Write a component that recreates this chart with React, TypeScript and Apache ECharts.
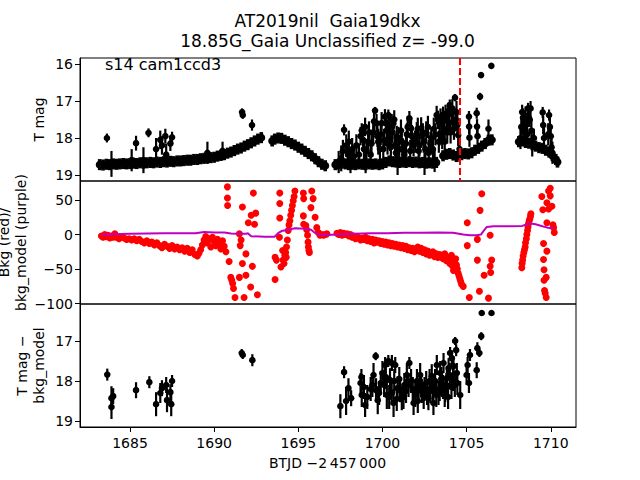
import React, { useEffect, useRef } from "react";
import * as echarts from "echarts";

// ---------- axis ranges & ticks ----------
const tRange = [1682.03, 1711.5];
const xTicks = [1685, 1690, 1695, 1700, 1705, 1710];
const topRange = [15.838, 19.162];
const topTicks = [16, 17, 18, 19];
const midRange = [-100.5, 77.5];
const midTicks = [-100, -50, 0, 50];
const botRange = [16.075, 19.15];
const botTicks = [17, 18, 19];
const discoveryT = 1704.62;

// ---------- top panel: dense band (T mag) ----------
const bandErr = 0.15;
const topBandT = [
  1683.2, 1683.4, 1683.6, 1683.8, 1684.0, 1684.2, 1684.4, 1684.6, 1684.8, 1685.0,
  1685.2, 1685.4, 1685.6, 1685.8, 1686.0, 1686.2, 1686.4, 1686.6, 1686.8, 1687.0,
  1687.2, 1687.4, 1687.6, 1687.8, 1688.0, 1688.2, 1688.4, 1688.6, 1688.8, 1689.0,
  1689.2, 1689.4, 1689.6, 1689.8, 1690.0, 1690.2, 1690.4, 1690.6, 1690.8, 1691.0,
  1691.2, 1691.4, 1691.6, 1691.8, 1692.0, 1692.2, 1692.4, 1692.6, 1692.8,
  1693.45, 1693.6, 1693.8, 1694.0, 1694.2, 1694.4, 1694.6, 1694.8, 1695.0, 1695.2,
  1695.4, 1695.6, 1695.8, 1696.0, 1696.2, 1696.4, 1696.6,
  1697.2, 1697.4, 1697.6, 1697.8, 1698.0, 1698.2, 1698.4, 1698.6, 1698.8, 1699.0,
  1699.2, 1699.4, 1699.6, 1699.8, 1700.0, 1700.2, 1700.4, 1700.6, 1700.8, 1701.0,
  1701.2, 1701.4, 1701.6, 1701.8, 1702.0, 1702.2, 1702.4, 1702.6, 1702.8, 1703.0,
  1703.2, 1703.6, 1703.8, 1704.0, 1704.2, 1704.4,
  1704.7, 1704.9, 1705.1, 1705.3, 1705.5, 1705.7, 1705.9, 1706.1, 1706.3, 1706.5,
  1708.1, 1708.3, 1708.5, 1708.7, 1708.9, 1709.1, 1709.3, 1709.5, 1709.7, 1709.9,
  1710.1, 1710.3, 1710.4,
];
const topBandMag = [
  18.72, 18.73, 18.71, 18.72, 18.70, 18.71, 18.70, 18.69, 18.70, 18.69,
  18.68, 18.69, 18.67, 18.68, 18.67, 18.66, 18.67, 18.65, 18.66, 18.64,
  18.65, 18.63, 18.64, 18.62, 18.62, 18.61, 18.60, 18.60, 18.58, 18.58,
  18.56, 18.55, 18.54, 18.53, 18.52, 18.49, 18.47, 18.45, 18.41, 18.38,
  18.34, 18.30, 18.27, 18.22, 18.18, 18.13, 18.08, 18.03, 17.99,
  18.08, 18.03, 18.00, 18.01, 18.06, 18.10, 18.15, 18.19, 18.25, 18.30,
  18.36, 18.42, 18.48, 18.56, 18.64, 18.71, 18.75,
  18.72, 18.70, 18.68, 18.70, 18.72, 18.71, 18.72, 18.70, 18.71, 18.72,
  18.70, 18.71, 18.70, 18.72, 18.70, 18.66, 18.62, 18.64, 18.65, 18.66,
  18.65, 18.66, 18.64, 18.66, 18.65, 18.67, 18.66, 18.68, 18.67, 18.68,
  18.66, 18.48, 18.44, 18.42, 18.46, 18.50,
  18.45, 18.42, 18.43, 18.40, 18.33, 18.28, 18.22, 18.15, 18.06, 18.05,
  18.10, 18.08, 18.12, 18.14, 18.18, 18.22, 18.26, 18.28, 18.33, 18.38,
  18.48, 18.58, 18.65,
];

// ---------- top panel: scattered points [t, mag, err] ----------
const topScatter = [
  [1683.63, 18.0, 0.12], [1683.9, 18.7, 0.35], [1685.1, 18.6, 0.3], [1685.36, 18.14, 0.2],
  [1685.8, 18.6, 0.35], [1686.1, 17.86, 0.12], [1686.55, 18.3, 0.3], [1686.8, 18.05, 0.25],
  [1686.9, 18.2, 0.25], [1687.1, 17.95, 0.2], [1687.15, 18.45, 0.3], [1687.4, 18.15, 0.2],
  [1687.5, 17.98, 0.15], [1689.6, 18.4, 0.3], [1690.5, 18.35, 0.25], [1691.66, 17.3, 0.1],
  [1691.7, 17.38, 0.1], [1692.25, 17.65, 0.15],
  [1697.4, 18.65, 0.3], [1697.55, 18.55, 0.35], [1697.65, 18.35, 0.3], [1697.72, 17.78, 0.15],
  [1697.85, 18.2, 0.3], [1697.95, 18.45, 0.3], [1698.0, 18.1, 0.3], [1698.1, 18.6, 0.35],
  [1698.2, 18.3, 0.3], [1698.3, 18.5, 0.3], [1698.45, 18.2, 0.3], [1698.6, 18.45, 0.3],
  [1698.7, 17.95, 0.25], [1698.77, 17.8, 0.2], [1698.85, 18.05, 0.3], [1698.9, 18.3, 0.3],
  [1698.97, 17.7, 0.25], [1699.0, 18.65, 0.3], [1699.05, 18.35, 0.3], [1699.15, 18.1, 0.3],
  [1699.2, 17.85, 0.3], [1699.3, 18.45, 0.35], [1699.35, 18.15, 0.3], [1699.45, 17.85, 0.3],
  [1699.5, 17.55, 0.25], [1699.56, 17.26, 0.1], [1699.65, 17.6, 0.25], [1699.7, 17.95, 0.3],
  [1699.75, 18.1, 0.35], [1699.85, 18.3, 0.3], [1699.9, 17.9, 0.3], [1699.95, 17.6, 0.3],
  [1700.05, 18.3, 0.3], [1700.1, 18.05, 0.3], [1700.15, 17.42, 0.2], [1700.2, 17.6, 0.25],
  [1700.25, 17.8, 0.3], [1700.3, 18.15, 0.3], [1700.35, 17.38, 0.15], [1700.4, 17.7, 0.3],
  [1700.45, 18.0, 0.35], [1700.5, 18.25, 0.3], [1700.55, 17.5, 0.15], [1700.6, 17.85, 0.3],
  [1700.65, 17.6, 0.2], [1700.7, 17.5, 0.25], [1700.75, 18.2, 0.3], [1700.8, 18.4, 0.3],
  [1700.85, 17.97, 0.3], [1700.9, 18.7, 0.3], [1700.95, 18.0, 0.3], [1701.0, 18.3, 0.3],
  [1701.1, 17.8, 0.3], [1701.15, 18.1, 0.3], [1701.2, 18.3, 0.3], [1701.3, 18.45, 0.3],
  [1701.4, 18.15, 0.3], [1701.45, 17.9, 0.3], [1701.5, 17.7, 0.3], [1701.6, 17.47, 0.2],
  [1701.65, 18.35, 0.3], [1701.7, 17.74, 0.3], [1701.75, 17.95, 0.3], [1701.85, 18.2, 0.3],
  [1701.95, 18.1, 0.3], [1702.04, 17.87, 0.3], [1702.1, 17.75, 0.3], [1702.15, 18.35, 0.3],
  [1702.2, 18.2, 0.3], [1702.3, 17.74, 0.3], [1702.4, 17.9, 0.3], [1702.45, 18.1, 0.3],
  [1702.5, 18.7, 0.3], [1702.55, 18.3, 0.3], [1702.6, 17.85, 0.3], [1702.7, 17.7, 0.3],
  [1702.75, 18.4, 0.35], [1702.85, 18.15, 0.3], [1702.9, 18.0, 0.3], [1703.0, 18.3, 0.3],
  [1703.05, 17.75, 0.3], [1703.1, 18.62, 0.3], [1703.15, 17.9, 0.3], [1703.22, 17.38, 0.25],
  [1703.3, 17.51, 0.25], [1703.35, 18.1, 0.3], [1703.4, 17.9, 0.3], [1703.45, 17.45, 0.25],
  [1703.5, 17.6, 0.3], [1703.55, 18.0, 0.3], [1703.6, 17.4, 0.25], [1703.65, 17.75, 0.3],
  [1703.7, 18.1, 0.35], [1703.75, 17.35, 0.25], [1703.8, 17.5, 0.3], [1703.85, 17.85, 0.3],
  [1703.9, 17.3, 0.25], [1703.95, 17.6, 0.3], [1704.0, 17.11, 0.15], [1704.05, 17.85, 0.3],
  [1704.1, 17.35, 0.25], [1704.15, 17.2, 0.25], [1704.2, 17.55, 0.3], [1704.25, 17.75, 0.3],
  [1704.31, 16.91, 0.1], [1704.35, 17.5, 0.3], [1704.4, 17.3, 0.3], [1704.45, 17.65, 0.3],
  [1704.5, 17.92, 0.3], [1704.58, 18.3, 0.35],
  [1705.14, 17.42, 0.15], [1705.15, 17.69, 0.2], [1705.17, 17.99, 0.25], [1705.6, 17.33, 0.15],
  [1705.62, 17.69, 0.2], [1705.65, 17.95, 0.2], [1705.8, 16.88, 0.1], [1705.86, 16.3, 0.05],
  [1706.3, 17.75, 0.25], [1706.47, 16.05, 0.05],
  [1708.2, 18.0, 0.3], [1708.25, 17.7, 0.25], [1708.3, 17.3, 0.2], [1708.35, 17.45, 0.25],
  [1708.4, 17.75, 0.3], [1708.45, 17.85, 0.3], [1708.5, 17.4, 0.25], [1708.55, 17.6, 0.25],
  [1708.6, 17.9, 0.3], [1708.65, 17.2, 0.15], [1708.7, 17.45, 0.25], [1708.75, 17.5, 0.2],
  [1708.8, 17.2, 0.2], [1708.85, 17.8, 0.3], [1708.9, 18.2, 0.3], [1709.0, 18.0, 0.25],
  [1709.52, 17.31, 0.15], [1709.55, 17.65, 0.25], [1709.6, 18.0, 0.3], [1709.85, 17.9, 0.3],
  [1709.9, 17.38, 0.15], [1709.95, 17.7, 0.25], [1710.0, 17.95, 0.25], [1710.05, 18.25, 0.25],
  [1710.1, 18.4, 0.3],
];

// ---------- middle panel: background (red) [t, bkg] ----------
const bkgPoints = [
  [1683.3, -2], [1683.4, -4], [1683.5, 0], [1683.6, -3], [1683.7, -1], [1683.8, -5], [1683.9, -2],
  [1684.0, -4], [1684.1, 1], [1684.2, -4], [1684.35, -6], [1684.5, -3], [1684.65, -5], [1684.8, -7],
  [1684.95, -6], [1685.1, -8], [1685.25, -6], [1685.4, -9], [1685.55, -7], [1685.7, -10], [1685.85, -12],
  [1686.0, -9], [1686.15, -13], [1686.3, -11], [1686.45, -15], [1686.6, -12], [1686.75, -16], [1686.9, -19],
  [1687.05, -14], [1687.2, -17], [1687.35, -20], [1687.5, -16], [1687.65, -21], [1687.8, -18], [1687.95, -22],
  [1688.1, -19], [1688.25, -24], [1688.4, -20], [1688.55, -26], [1688.7, -22], [1688.85, -29], [1689.0, -31],
  [1689.1, -27], [1689.2, -22], [1689.3, -15], [1689.4, -8], [1689.5, -3], [1689.6, -12], [1689.7, -6],
  [1689.8, -18], [1689.9, -4], [1690.0, -10], [1690.1, -16], [1690.2, -7], [1690.3, -13], [1690.4, -21],
  [1690.5, -9], [1690.6, -17], [1690.7, -25],
  [1690.79, 69], [1690.79, 53], [1690.8, 42], [1690.89, -39], [1690.99, -62], [1691.05, -66],
  [1691.1, -71], [1691.15, -78], [1691.24, -91], [1691.5, 1], [1691.6, -8], [1691.55, -16],
  [1691.68, 40], [1691.68, -42], [1691.5, -62], [1691.78, -91], [1691.89, -28], [1691.89, -59],
  [1692.03, 17], [1692.17, -76], [1692.27, -46], [1692.2, 28], [1692.33, 60], [1692.47, 31],
  [1692.4, 15], [1692.57, -87],
  [1693.62, -33], [1693.62, -65], [1693.7, -37], [1693.9, 60], [1693.9, 45], [1693.9, 24],
  [1693.88, -4], [1693.97, -47], [1694.07, -23], [1694.1, -37], [1694.15, -42], [1694.2, -30],
  [1694.25, -26], [1694.28, -33], [1694.3, -18], [1694.35, -8], [1694.4, 6], [1694.45, 14],
  [1694.5, 20], [1694.55, 28], [1694.6, 35], [1694.65, 42], [1694.7, 49], [1694.75, 55], [1694.8, 63],
  [1695.3, 60], [1695.32, 52], [1695.3, 27], [1695.32, 15], [1695.45, 13], [1695.5, 7],
  [1695.55, -1], [1695.58, -11], [1695.6, -18], [1695.63, -23], [1695.66, -26], [1695.8, 63],
  [1695.75, 39], [1695.88, 52], [1696.0, 25], [1696.1, 10], [1696.19, 3], [1696.29, -1],
  [1696.4, 0], [1696.5, -1], [1696.6, 0], [1696.7, 1],
  [1697.3, 2], [1697.4, 0], [1697.5, 3], [1697.6, -1], [1697.7, 2], [1697.8, 0], [1697.9, 1],
  [1698.0, -2], [1698.1, 0], [1698.2, -4], [1698.3, -2], [1698.4, -6], [1698.5, -3], [1698.6, -5],
  [1698.7, -8], [1698.8, -5], [1698.9, -7], [1699.0, -4], [1699.1, -9], [1699.2, -6], [1699.3, -10],
  [1699.4, -7], [1699.5, -12], [1699.6, -8], [1699.7, -11], [1699.8, -9], [1699.9, -13], [1700.0, -10],
  [1700.1, -14], [1700.2, -11], [1700.3, -15], [1700.4, -12], [1700.5, -16], [1700.6, -13], [1700.7, -17],
  [1700.8, -14], [1700.9, -18], [1701.0, -15], [1701.1, -19], [1701.2, -16], [1701.3, -20], [1701.4, -17],
  [1701.5, -22], [1701.6, -19], [1701.7, -23], [1701.8, -20], [1701.9, -25], [1702.0, -21], [1702.1, -18],
  [1702.2, -24], [1702.3, -20], [1702.4, -26], [1702.5, -22], [1702.6, -28], [1702.7, -24], [1702.8, -30],
  [1702.9, -27], [1703.0, -25], [1703.1, -32], [1703.2, -28], [1703.3, -33], [1703.4, -29], [1703.5, -30],
  [1703.6, -35], [1703.7, -28], [1703.8, -38], [1703.9, -33], [1704.0, -42], [1704.05, -36], [1704.1, -30],
  [1704.15, -45], [1704.2, -38], [1704.22, -52], [1704.3, -40], [1704.35, -35], [1704.4, -44],
  [1704.45, -50], [1704.5, -56], [1704.55, -60], [1704.6, -64], [1704.65, -68], [1704.7, -72], [1704.8, -75],
  [1705.04, 17], [1705.04, -16], [1705.16, -91], [1705.64, -37], [1705.64, -7], [1705.76, -82],
  [1705.8, 35], [1705.9, 59], [1706.04, -59], [1706.3, -92], [1706.4, -1], [1706.4, -46],
  [1706.43, -55], [1706.49, -37],
  [1708.28, -48], [1708.3, -42], [1708.33, -37], [1708.36, -31], [1708.4, -26], [1708.44, -22],
  [1708.48, -18], [1708.5, -12], [1708.55, -6], [1708.58, 0], [1708.62, 6], [1708.65, 11],
  [1708.68, 16], [1708.72, 20], [1708.76, 23], [1708.8, 27], [1708.82, 30],
  [1709.47, 55], [1709.53, 36], [1709.57, -13], [1709.77, -24], [1709.57, -36], [1709.6, -51],
  [1709.73, -62], [1709.6, -66], [1709.63, -81], [1709.73, -91], [1709.67, -85], [1709.77, 17],
  [1709.87, 37], [1709.77, 46], [1709.97, 56], [1709.87, 63], [1709.97, 67], [1710.07, 41],
  [1710.13, 14], [1710.17, 10], [1710.21, 3],
];

// ---------- middle panel: bkg_model (purple) [t, model] ----------
const bkgModel = [
  [1683.3, 0], [1684.0, 0.5], [1685.0, 1], [1686.0, 1.5], [1687.0, 2], [1688.0, 2], [1688.9, 2],
  [1689.4, 3.8], [1690.0, 3], [1690.6, 3], [1691.0, 1.5], [1691.4, 1], [1691.9, 1], [1692.0, 2],
  [1692.2, -2.5], [1693.0, -3], [1693.6, -3], [1693.8, 2], [1694.0, 5], [1694.4, 7], [1694.8, 9],
  [1695.4, 8.5], [1695.76, 7], [1695.96, 3], [1696.16, 0], [1696.7, -0.5], [1697.3, 0], [1698.3, 1],
  [1699.3, 2], [1700.3, 2], [1701.3, 2.5], [1702.3, 2.5], [1703.3, 3], [1704.2, 2.5], [1704.8, 0],
  [1705.2, -1], [1705.6, -1], [1705.85, 0], [1706.0, 5], [1706.2, 11], [1706.6, 12], [1707.5, 12],
  [1708.3, 12.5], [1708.6, 15], [1708.8, 16], [1709.1, 15], [1709.5, 12], [1709.8, 10], [1710.2, 9],
];

// ---------- bottom panel: T mag - bkg_model [t, mag, err] ----------
const corrPoints = [
  [1683.65, 17.84, 0.15], [1683.9, 18.43, 0.3], [1683.9, 18.65, 0.3], [1684.0, 18.38, 0.2],
  [1685.36, 18.23, 0.2], [1686.15, 18.03, 0.15], [1686.55, 18.58, 0.3], [1686.8, 18.3, 0.25],
  [1686.9, 18.18, 0.2], [1687.15, 18.1, 0.2], [1687.2, 18.48, 0.3], [1687.4, 18.28, 0.2],
  [1687.5, 18.0, 0.15], [1687.45, 18.58, 0.3], [1691.64, 17.3, 0.1], [1691.7, 17.35, 0.1],
  [1692.27, 17.48, 0.15],
  [1697.5, 18.63, 0.3], [1697.72, 17.78, 0.15], [1697.84, 18.5, 0.35], [1697.98, 18.18, 0.25],
  [1698.14, 18.43, 0.2], [1698.7, 18.05, 0.25], [1698.75, 17.9, 0.2], [1698.77, 18.35, 0.3],
  [1698.9, 18.15, 0.3], [1698.97, 18.6, 0.3], [1699.1, 18.4, 0.3], [1699.3, 18.2, 0.3],
  [1699.4, 18.1, 0.3], [1699.47, 17.85, 0.3], [1699.6, 17.38, 0.1], [1699.62, 18.23, 0.3],
  [1699.72, 18.48, 0.35], [1699.8, 18.3, 0.3], [1699.9, 18.05, 0.3], [1700.0, 17.8, 0.3],
  [1700.1, 18.1, 0.3], [1700.16, 17.6, 0.2], [1700.2, 17.9, 0.3], [1700.26, 18.35, 0.35],
  [1700.35, 17.5, 0.15], [1700.4, 18.4, 0.3], [1700.45, 17.98, 0.3], [1700.55, 18.3, 0.3],
  [1700.56, 17.55, 0.2], [1700.66, 18.55, 0.35], [1700.7, 18.0, 0.3], [1700.76, 17.6, 0.2],
  [1700.85, 18.45, 0.3], [1700.9, 18.18, 0.3], [1701.0, 17.95, 0.3], [1701.05, 18.23, 0.3],
  [1701.15, 18.43, 0.3], [1701.25, 18.4, 0.3], [1701.3, 18.1, 0.3], [1701.4, 18.25, 0.3],
  [1701.45, 17.85, 0.3], [1701.55, 18.1, 0.3], [1701.6, 17.55, 0.15], [1701.7, 18.0, 0.3],
  [1701.8, 18.2, 0.3], [1701.85, 18.55, 0.3], [1701.95, 18.35, 0.3], [1702.05, 18.0, 0.3],
  [1702.1, 18.5, 0.3], [1702.15, 18.23, 0.3], [1702.24, 17.85, 0.3], [1702.3, 18.1, 0.3],
  [1702.34, 18.25, 0.3], [1702.45, 18.4, 0.3], [1702.5, 18.2, 0.3], [1702.6, 18.05, 0.3],
  [1702.65, 18.3, 0.3], [1702.73, 18.43, 0.3], [1702.8, 18.0, 0.3], [1702.85, 18.25, 0.3],
  [1702.93, 17.88, 0.3], [1703.0, 18.2, 0.3], [1703.03, 18.55, 0.3], [1703.13, 18.0, 0.3],
  [1703.2, 18.35, 0.3], [1703.23, 17.6, 0.25], [1703.33, 18.3, 0.3], [1703.4, 18.2, 0.3],
  [1703.43, 17.8, 0.3], [1703.5, 17.95, 0.3], [1703.53, 18.1, 0.3], [1703.6, 18.15, 0.3],
  [1703.63, 17.55, 0.25], [1703.7, 18.35, 0.3], [1703.73, 18.23, 0.3], [1703.8, 18.1, 0.3],
  [1703.83, 17.93, 0.3], [1703.9, 18.4, 0.3], [1703.93, 17.68, 0.25], [1704.0, 17.85, 0.3],
  [1704.02, 17.3, 0.15], [1704.1, 18.15, 0.3], [1704.12, 17.43, 0.2], [1704.2, 17.95, 0.3],
  [1704.22, 17.63, 0.25], [1704.3, 18.1, 0.3], [1704.32, 17.0, 0.1], [1704.38, 17.23, 0.15],
  [1704.42, 17.8, 0.25], [1704.45, 18.05, 0.3], [1704.62, 18.35, 0.35], [1705.0, 17.85, 0.25],
  [1705.06, 17.6, 0.2], [1705.14, 18.05, 0.25], [1705.2, 17.35, 0.15], [1705.6, 17.73, 0.2],
  [1705.64, 17.18, 0.15], [1705.76, 17.3, 0.1], [1705.87, 16.88, 0.1], [1705.9, 16.3, 0.05],
  [1706.48, 16.3, 0.05],
];

const FONT = "DejaVu Sans";
const BLACK = "#000000";
const RED = "#ff0000";
const PURPLE = "#bf00bf";

const minus = (v: number) => String(v).replace("-", "\u2212");

function errRender(color: string, r: number, barWidth: number) {
  return (params: any, api: any) => {
    const t = api.value(0);
    const m = api.value(1);
    const e = api.value(2);
    const p = api.coord([t, m]);
    const lo = api.coord([t, m - e]);
    const hi = api.coord([t, m + e]);
    return {
      type: "group",
      children: [
        { type: "line", shape: { x1: p[0], y1: lo[1], x2: p[0], y2: hi[1] }, style: { stroke: color, lineWidth: barWidth } },
        { type: "circle", shape: { cx: p[0], cy: p[1], r }, style: { fill: color, stroke: null } },
      ],
    };
  };
}

function yAxisCfg(gridIndex: number, range: number[], ticks: number[], inverse: boolean) {
  return {
    type: "value",
    gridIndex,
    min: range[0],
    max: range[1],
    inverse,
    splitLine: { show: false },
    axisLine: { show: true, lineStyle: { color: BLACK, width: 1 } },
    axisTick: { show: true, length: 5, lineStyle: { color: BLACK, width: 1 }, customValues: ticks },
    axisLabel: {
      show: true, customValues: ticks, color: BLACK, fontSize: 14, fontFamily: FONT, margin: 7,
      formatter: (v: number) => minus(v),
    },
  };
}

export default function App() {
  const ref = useRef<HTMLDivElement>(null);
  useEffect(() => {
    if (!ref.current) return;
    const chart = echarts.init(ref.current, null, { renderer: "svg" });
    const bandData = topBandT.map((t, i) => [t, topBandMag[i], bandErr]);
    const grids = [
      { left: 80, right: 64, top: 58, height: 123 },
      { left: 80, right: 64, top: 181, height: 123 },
      { left: 80, right: 64, top: 304, height: 123 },
    ].map((g) => ({ ...g, show: true, borderColor: BLACK, borderWidth: 1, backgroundColor: "transparent" }));
    const xHidden = (gi: number) => ({
      type: "value", gridIndex: gi, min: tRange[0], max: tRange[1],
      axisLine: { show: false }, axisTick: { show: false }, axisLabel: { show: false }, splitLine: { show: false },
    });
    const option: any = {
      animation: false,
      backgroundColor: "#ffffff",
      grid: grids,
      xAxis: [
        xHidden(0),
        xHidden(1),
        {
          type: "value", gridIndex: 2, min: tRange[0], max: tRange[1],
          splitLine: { show: false },
          axisLine: { show: true, lineStyle: { color: BLACK, width: 1 } },
          axisTick: { show: true, length: 5, lineStyle: { color: BLACK }, customValues: xTicks },
          axisLabel: {
            show: true, customValues: xTicks, color: BLACK, fontSize: 14, fontFamily: FONT, margin: 9,
            formatter: (v: number) => String(v),
          },
        },
      ],
      yAxis: [
        yAxisCfg(0, topRange, topTicks, true),
        yAxisCfg(1, midRange, midTicks, false),
        yAxisCfg(2, botRange, botTicks, true),
      ],
      series: [
        {
          type: "custom", name: "band", xAxisIndex: 0, yAxisIndex: 0, clip: true,
          renderItem: errRender(BLACK, 4, 3.6), data: bandData, encode: { x: 0, y: 1 }, z: 2,
        },
        {
          type: "custom", name: "topScatter", xAxisIndex: 0, yAxisIndex: 0, clip: true,
          renderItem: errRender(BLACK, 3.3, 2.2), data: topScatter, encode: { x: 0, y: 1 }, z: 3,
        },
        {
          type: "line", name: "discovery", xAxisIndex: 0, yAxisIndex: 0, data: [], z: 5,
          markLine: {
            silent: true, symbol: "none", label: { show: false },
            lineStyle: { color: RED, width: 2, type: [7, 3] },
            data: [{ xAxis: discoveryT }],
          },
        },
        {
          type: "scatter", name: "bkg", xAxisIndex: 1, yAxisIndex: 1, data: bkgPoints,
          symbol: "circle", symbolSize: 7, itemStyle: { color: RED, opacity: 1 }, z: 2,
        },
        {
          type: "line", name: "bkg_model", xAxisIndex: 1, yAxisIndex: 1, data: bkgModel,
          showSymbol: false, lineStyle: { color: PURPLE, width: 2 }, z: 3,
        },
        {
          type: "custom", name: "corr", xAxisIndex: 2, yAxisIndex: 2, clip: true,
          renderItem: errRender(BLACK, 3.3, 2.2), data: corrPoints, encode: { x: 0, y: 1 }, z: 2,
        },
      ],
      graphic: [
        { type: "text", x: 327.5, y: 21, style: { text: "AT2019nil  Gaia19dkx", font: `17px "${FONT}"`, fill: BLACK, align: "center", verticalAlign: "middle" } },
        { type: "text", x: 327.5, y: 41, style: { text: "18.85G_Gaia Unclassified z= -99.0", font: `17px "${FONT}"`, fill: BLACK, align: "center", verticalAlign: "middle" } },
        { type: "text", x: 105, y: 64, z: 10, style: { text: "s14 cam1ccd3", font: `16px "${FONT}"`, fill: BLACK, align: "left", verticalAlign: "middle" } },
        { type: "text", x: 39, y: 119.5, rotation: Math.PI / 2, style: { text: "T mag", font: `14px "${FONT}"`, fill: BLACK, align: "center", verticalAlign: "middle" } },
        { type: "text", x: 12, y: 242.5, rotation: Math.PI / 2, style: { text: "Bkg (red)/\nbkg_model (purple)", font: `14px "${FONT}"`, lineHeight: 17, fill: BLACK, align: "center", verticalAlign: "middle" } },
        { type: "text", x: 30, y: 365.5, rotation: Math.PI / 2, style: { text: "T mag \u2212\nbkg_model", font: `14px "${FONT}"`, lineHeight: 17, fill: BLACK, align: "center", verticalAlign: "middle" } },
        { type: "text", x: 327.5, y: 463, style: { text: "BTJD \u22122\u2009457\u2009000", font: `14px "${FONT}"`, fill: BLACK, align: "center", verticalAlign: "middle" } },
      ],
    };
    chart.setOption(option);
    return () => chart.dispose();
  }, []);
  return <div ref={ref} style={{ width: 640, height: 480, position: "absolute", left: 0, top: 0 }} />;
}
